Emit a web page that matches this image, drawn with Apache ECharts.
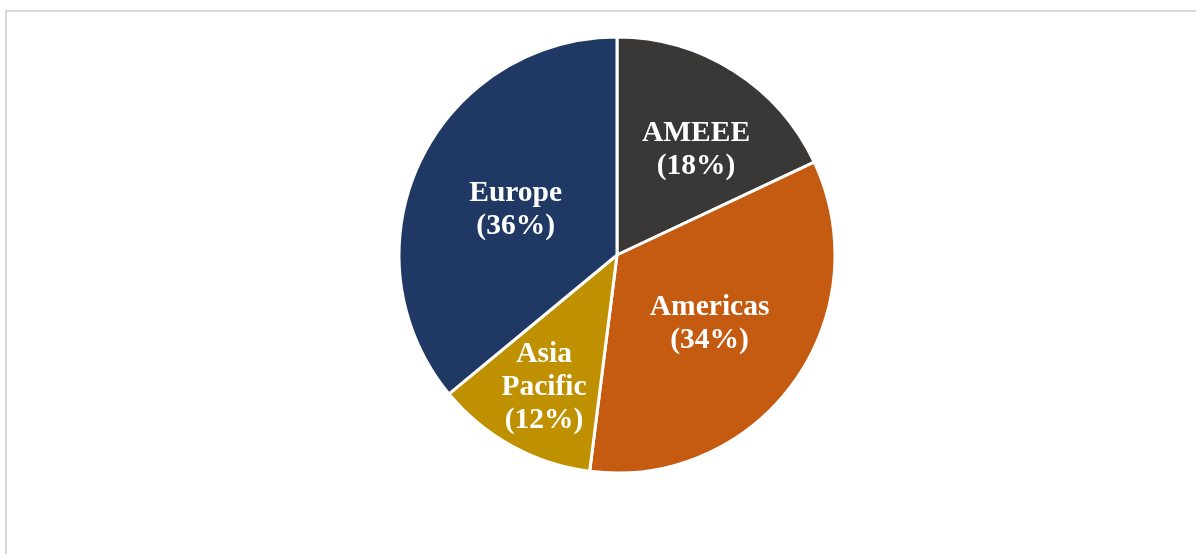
<!DOCTYPE html>
<html>
<head>
<meta charset="utf-8">
<style>
  html, body { margin: 0; padding: 0; background: #fff; overflow: hidden; }
  #frame { position: absolute; left: 5px; top: 10px; width: 1400px; height: 800px;
           border: 2px solid #d9d9d9; box-sizing: border-box; }
  #chart { position: absolute; left: 0; top: 0; width: 1196px; height: 554px; }
</style>
<script src="https://cdn.jsdelivr.net/npm/echarts@6/dist/echarts.min.js"></script>
</head>
<body>
<div id="frame"></div>
<div id="chart"></div>
<script>
// Regional revenue split (percent), clockwise from 12 o'clock
const regions = ['AMEEE', 'Americas', 'Asia\nPacific', 'Europe'];
const shares = [18, 34, 12, 36];
const colors = ['#3a3836', '#c55a11', '#bf9000', '#1f3864'];

// Label nudges; the two smaller slices carry their labels further out toward the rim
const labelNudge = { 0: [19, -11], 1: [2, 3], 2: [-19, 34], 3: [0, 3] };

const chart = echarts.init(document.getElementById('chart'), null, { renderer: 'canvas' });
chart.setOption({
  animation: false,
  series: [{
    type: 'pie',
    center: [617, 255],
    radius: 218,
    startAngle: 90,
    clockwise: true,
    avoidLabelOverlap: false,
    emphasis: { disabled: true },
    itemStyle: { borderColor: '#ffffff', borderWidth: 3 },
    label: {
      show: true,
      position: 'inside',
      color: '#ffffff',
      fontFamily: '"Liberation Serif", "Times New Roman", serif',
      fontWeight: 'bold',
      fontSize: 29.5,
      lineHeight: 33,
      align: 'center',
      formatter: p => p.name + '\n(' + p.value + '%)'
    },
    labelLayout: params => {
      const n = labelNudge[params.dataIndex];
      return n ? { dx: n[0], dy: n[1] } : {};
    },
    data: regions.map((name, i) => ({
      name: name,
      value: shares[i],
      itemStyle: { color: colors[i] }
    }))
  }]
});
</script>
</body>
</html>
